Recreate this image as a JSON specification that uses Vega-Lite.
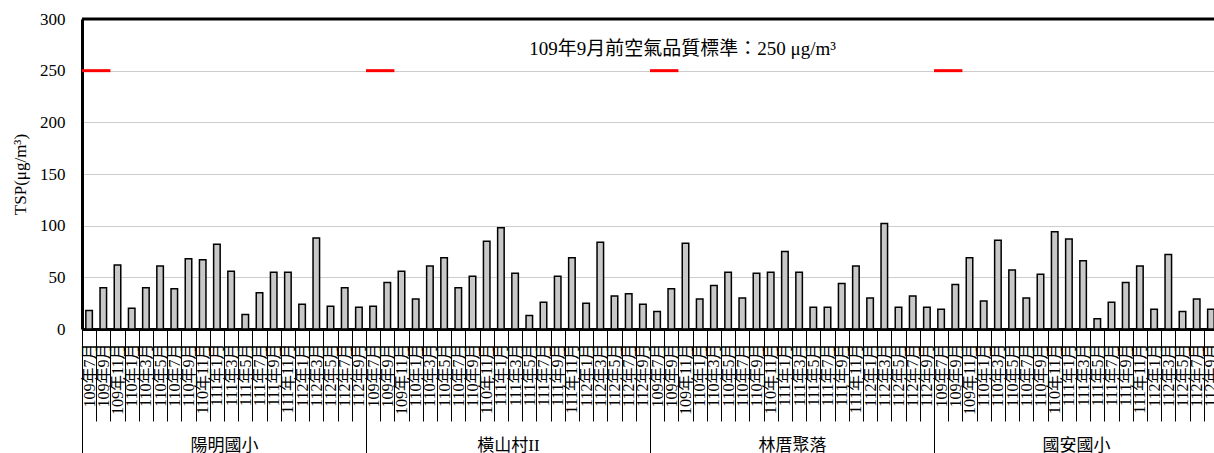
{
  "$schema": "https://vega.github.io/schema/vega-lite/v6.json",
  "autosize": {"type": "none"},
  "width": 1136,
  "height": 310,
  "padding": {"left": 82, "top": 19, "right": -4, "bottom": 124},
  "background": "white",
  "config": {
    "view": {"stroke": null},
    "font": "Liberation Serif, Noto Sans CJK TC",
    "axis": {"labelFont": "Liberation Serif, Noto Sans CJK TC", "titleFont": "Liberation Serif, Noto Sans CJK TC", "labelColor": "black", "titleColor": "black"}
  },
  "datasets": {
    "bars": [
      {"s": "陽明國小", "k": "陽明國小|109年7月", "v": 18},
      {"s": "陽明國小", "k": "陽明國小|109年9月", "v": 40},
      {"s": "陽明國小", "k": "陽明國小|109年11月", "v": 62},
      {"s": "陽明國小", "k": "陽明國小|110年1月", "v": 20},
      {"s": "陽明國小", "k": "陽明國小|110年3月", "v": 40},
      {"s": "陽明國小", "k": "陽明國小|110年5月", "v": 61},
      {"s": "陽明國小", "k": "陽明國小|110年7月", "v": 39},
      {"s": "陽明國小", "k": "陽明國小|110年9月", "v": 68},
      {"s": "陽明國小", "k": "陽明國小|110年11月", "v": 67},
      {"s": "陽明國小", "k": "陽明國小|111年1月", "v": 82},
      {"s": "陽明國小", "k": "陽明國小|111年3月", "v": 56},
      {"s": "陽明國小", "k": "陽明國小|111年5月", "v": 14},
      {"s": "陽明國小", "k": "陽明國小|111年7月", "v": 35},
      {"s": "陽明國小", "k": "陽明國小|111年9月", "v": 55},
      {"s": "陽明國小", "k": "陽明國小|111年11月", "v": 55},
      {"s": "陽明國小", "k": "陽明國小|112年1月", "v": 24},
      {"s": "陽明國小", "k": "陽明國小|112年3月", "v": 88},
      {"s": "陽明國小", "k": "陽明國小|112年5月", "v": 22},
      {"s": "陽明國小", "k": "陽明國小|112年7月", "v": 40},
      {"s": "陽明國小", "k": "陽明國小|112年9月", "v": 21},
      {"s": "橫山村II", "k": "橫山村II|109年7月", "v": 22},
      {"s": "橫山村II", "k": "橫山村II|109年9月", "v": 45},
      {"s": "橫山村II", "k": "橫山村II|109年11月", "v": 56},
      {"s": "橫山村II", "k": "橫山村II|110年1月", "v": 29},
      {"s": "橫山村II", "k": "橫山村II|110年3月", "v": 61},
      {"s": "橫山村II", "k": "橫山村II|110年5月", "v": 69},
      {"s": "橫山村II", "k": "橫山村II|110年7月", "v": 40},
      {"s": "橫山村II", "k": "橫山村II|110年9月", "v": 51},
      {"s": "橫山村II", "k": "橫山村II|110年11月", "v": 85},
      {"s": "橫山村II", "k": "橫山村II|111年1月", "v": 98},
      {"s": "橫山村II", "k": "橫山村II|111年3月", "v": 54},
      {"s": "橫山村II", "k": "橫山村II|111年5月", "v": 13},
      {"s": "橫山村II", "k": "橫山村II|111年7月", "v": 26},
      {"s": "橫山村II", "k": "橫山村II|111年9月", "v": 51},
      {"s": "橫山村II", "k": "橫山村II|111年11月", "v": 69},
      {"s": "橫山村II", "k": "橫山村II|112年1月", "v": 25},
      {"s": "橫山村II", "k": "橫山村II|112年3月", "v": 84},
      {"s": "橫山村II", "k": "橫山村II|112年5月", "v": 32},
      {"s": "橫山村II", "k": "橫山村II|112年7月", "v": 34},
      {"s": "橫山村II", "k": "橫山村II|112年9月", "v": 24},
      {"s": "林厝聚落", "k": "林厝聚落|109年7月", "v": 17},
      {"s": "林厝聚落", "k": "林厝聚落|109年9月", "v": 39},
      {"s": "林厝聚落", "k": "林厝聚落|109年11月", "v": 83},
      {"s": "林厝聚落", "k": "林厝聚落|110年1月", "v": 29},
      {"s": "林厝聚落", "k": "林厝聚落|110年3月", "v": 42},
      {"s": "林厝聚落", "k": "林厝聚落|110年5月", "v": 55},
      {"s": "林厝聚落", "k": "林厝聚落|110年7月", "v": 30},
      {"s": "林厝聚落", "k": "林厝聚落|110年9月", "v": 54},
      {"s": "林厝聚落", "k": "林厝聚落|110年11月", "v": 55},
      {"s": "林厝聚落", "k": "林厝聚落|111年1月", "v": 75},
      {"s": "林厝聚落", "k": "林厝聚落|111年3月", "v": 55},
      {"s": "林厝聚落", "k": "林厝聚落|111年5月", "v": 21},
      {"s": "林厝聚落", "k": "林厝聚落|111年7月", "v": 21},
      {"s": "林厝聚落", "k": "林厝聚落|111年9月", "v": 44},
      {"s": "林厝聚落", "k": "林厝聚落|111年11月", "v": 61},
      {"s": "林厝聚落", "k": "林厝聚落|112年1月", "v": 30},
      {"s": "林厝聚落", "k": "林厝聚落|112年3月", "v": 102},
      {"s": "林厝聚落", "k": "林厝聚落|112年5月", "v": 21},
      {"s": "林厝聚落", "k": "林厝聚落|112年7月", "v": 32},
      {"s": "林厝聚落", "k": "林厝聚落|112年9月", "v": 21},
      {"s": "國安國小", "k": "國安國小|109年7月", "v": 19},
      {"s": "國安國小", "k": "國安國小|109年9月", "v": 43},
      {"s": "國安國小", "k": "國安國小|109年11月", "v": 69},
      {"s": "國安國小", "k": "國安國小|110年1月", "v": 27},
      {"s": "國安國小", "k": "國安國小|110年3月", "v": 86},
      {"s": "國安國小", "k": "國安國小|110年5月", "v": 57},
      {"s": "國安國小", "k": "國安國小|110年7月", "v": 30},
      {"s": "國安國小", "k": "國安國小|110年9月", "v": 53},
      {"s": "國安國小", "k": "國安國小|110年11月", "v": 94},
      {"s": "國安國小", "k": "國安國小|111年1月", "v": 87},
      {"s": "國安國小", "k": "國安國小|111年3月", "v": 66},
      {"s": "國安國小", "k": "國安國小|111年5月", "v": 10},
      {"s": "國安國小", "k": "國安國小|111年7月", "v": 26},
      {"s": "國安國小", "k": "國安國小|111年9月", "v": 45},
      {"s": "國安國小", "k": "國安國小|111年11月", "v": 61},
      {"s": "國安國小", "k": "國安國小|112年1月", "v": 19},
      {"s": "國安國小", "k": "國安國小|112年3月", "v": 72},
      {"s": "國安國小", "k": "國安國小|112年5月", "v": 17},
      {"s": "國安國小", "k": "國安國小|112年7月", "v": 29},
      {"s": "國安國小", "k": "國安國小|112年9月", "v": 19}
    ],
    "sites": [
      {"s": "陽明國小", "std": 250, "note": ""},
      {"s": "橫山村II", "std": 250, "note": ""},
      {"s": "林厝聚落", "std": 250, "note": "109年9月前空氣品質標準：250 μg/m³"},
      {"s": "國安國小", "std": 250, "note": ""}
    ]
  },
  "layer": [
    {
      "data": {"name": "bars"},
      "mark": {"type": "bar", "width": {"band": 0.46}, "fill": "#c8c8c8", "stroke": "black", "strokeWidth": 1.5},
      "encoding": {
        "x": {
          "field": "k", "type": "nominal", "sort": null,
          "scale": {"paddingInner": 0, "paddingOuter": 0},
          "axis": {
            "orient": "bottom",
            "title": null,
            "labelExpr": "split(datum.label, '|')[1]",
            "labelAngle": -90,
            "labelFontSize": 16,
            "labelOverlap": false,
            "labelLimit": 200,
            "labelPadding": -78,
            "tickBand": "extent",
            "tickSize": 92,
            "tickColor": "black",
            "tickWidth": 1,
            "domainColor": "black",
            "domainWidth": 3
          }
        },
        "y": {
          "field": "v", "type": "quantitative",
          "scale": {"domain": [0, 300], "nice": false},
          "axis": {
            "title": "TSP(μg/m³)",
            "titleFontSize": 17,
            "titleFontWeight": "normal",
            "titlePadding": 10,
            "values": [0, 50, 100, 150, 200, 250, 300],
            "labelFontSize": 17,
            "labelPadding": 17,
            "ticks": false,
            "domainColor": "black",
            "domainWidth": 3,
            "grid": true,
            "gridColor": "#9a9a9a",
            "gridDash": [1, 1],
            "gridWidth": 1
          }
        }
      }
    },
    {
      "data": {"name": "sites"},
      "encoding": {
        "x": {
          "field": "s", "type": "nominal", "sort": null,
          "scale": {"paddingInner": 0, "paddingOuter": 0},
          "axis": {
            "orient": "bottom",
            "title": null,
            "labelAngle": 0,
            "labelFontSize": 17,
            "labelBaseline": "middle",
            "labelPadding": -8,
            "tickBand": "extent",
            "tickSize": 124,
            "tickColor": "black",
            "tickWidth": 1,
            "domain": false
          }
        }
      },
      "layer": [
        {
          "mark": {"type": "rule", "color": "#ff0000", "strokeWidth": 3},
          "encoding": {
            "x": {"field": "s", "type": "nominal", "sort": null, "bandPosition": 0},
            "x2": {"field": "s", "bandPosition": 0.1},
            "y": {"field": "std", "type": "quantitative"}
          }
        },
        {
          "mark": {"type": "text", "fontSize": 19, "color": "black", "align": "center", "baseline": "middle"},
          "encoding": {
            "x": {"field": "s", "type": "nominal", "sort": null, "bandPosition": 0.115},
            "y": {"datum": 271, "type": "quantitative"},
            "text": {"field": "note"}
          }
        }
      ]
    },
    {
      "data": {"values": [{"top": 300}]},
      "mark": {"type": "rule", "color": "black", "strokeWidth": 3},
      "encoding": {"y": {"field": "top", "type": "quantitative"}}
    }
  ],
  "resolve": {"scale": {"x": "independent"}, "axis": {"x": "independent"}}
}
